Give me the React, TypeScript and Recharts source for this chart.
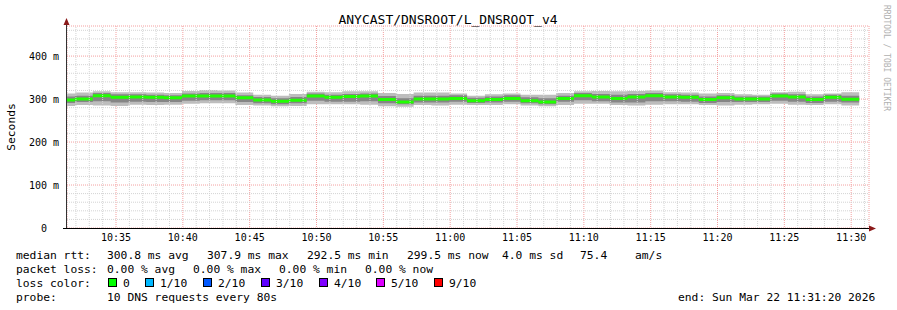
import React from "react";
import { ComposedChart, Area, XAxis, YAxis, ReferenceLine, CartesianGrid } from "recharts";

// seconds since 10:31:20 (graph start)
const timeTicks = [220, 520, 820, 1120, 1420, 1720, 2020, 2320, 2620, 2920, 3220, 3520];
const timeLabels = ["10:35", "10:40", "10:45", "10:50", "10:55", "11:00", "11:05", "11:10", "11:15", "11:20", "11:25", "11:30"];
const yTicks = [0, 100, 200, 300, 400];
const yLabels = ["0", "100 m", "200 m", "300 m", "400 m"];

// median rtt per probe round (ms)
const median = [
  297.7, 300, 307.5, 304, 305, 304, 303, 307, 307, 307, 303, 298, 295, 297, 307, 304,
  306, 307, 299, 293, 300, 300, 301.5, 296, 299, 301.5, 296, 293, 301.5, 307.7, 305, 301.5,
  305, 307.9, 305, 304, 299, 303, 300, 300, 307, 305, 299, 304, 299.5,
];
// smoke: spread of the 10 pings
const pingMin = [
  284, 286, 285, 284, 287, 286, 287, 289, 290, 290, 286, 285, 283, 284, 288, 288,
  288, 287, 283, 282, 286, 285, 287, 286, 286, 288, 285, 283, 286, 289, 289, 286,
  285, 287, 288, 288, 286, 285, 287, 288, 289, 287, 286, 288, 285,
];
const pingQ1 = [
  291, 293, 295, 292, 294, 293, 293, 296, 297, 297, 293, 290, 288, 290, 296, 294,
  294, 295, 290, 288, 292, 292, 294, 291, 292, 294, 290, 288, 294, 297, 295, 292,
  292, 295, 295, 294, 291, 293, 293, 293, 296, 294, 291, 294, 292,
];
const pingQ3 = [
  306, 308, 314, 311, 311, 310, 309, 313, 314, 314, 309, 305, 302, 305, 313, 310,
  312, 313, 307, 302, 308, 308, 309, 303, 306, 309, 304, 302, 308, 314, 312, 310,
  312, 314, 311, 310, 306, 309, 306, 306, 313, 311, 306, 310, 308,
];
const pingMax = [
  313, 315, 318, 316, 316, 315, 314, 319, 321, 320, 315, 310, 308, 312, 317, 316,
  318, 318, 314, 312, 315, 315, 313, 308, 311, 313, 310, 310, 314, 318, 319, 318,
  319, 320, 316, 315, 313, 314, 311, 310, 316, 317, 311, 313, 316,
];

const lossColors = ["#00ff00", "#00b8ff", "#0059ff", "#5e00ff", "#7e00ff", "#dd00ff", "#ff0000"];
const lossLabels = ["0", "1/10", "2/10", "3/10", "4/10", "5/10", "9/10"];

const PROBE_STEP = 80;
const FIRST_OFFSET = 36;
const END_T = FIRST_OFFSET + PROBE_STEP * (median.length - 1);
const MEDIAN_HALF = 3.5; // half thickness of the median bar, in ms

const data = median.map((m, i) => ({
  t: i === 0 ? 0 : FIRST_OFFSET + PROBE_STEP * (i - 1),
  medianBar: [m - MEDIAN_HALF, m + MEDIAN_HALF],
  outer: [pingMin[i], pingMax[i]],
  inner: [pingQ1[i], pingQ3[i]],
}));
data.push({ ...data[data.length - 1], t: END_T });

const minorX: number[] = [];
for (let t = 40; t < 3600; t += 60) if (!timeTicks.includes(t)) minorX.push(t);
const minorY: number[] = [];
for (let v = 20; v <= 460; v += 20) if (v % 100 !== 0) minorY.push(v);

const FONT = "'DejaVu Sans Mono', monospace";

const YTick = (props: any) => {
  const { x, y, payload } = props;
  const idx = yTicks.indexOf(payload.value);
  return (
    <text x={payload.value === 0 ? x - 12 : x} y={y} dy="0.35em" textAnchor="end" fontSize={10} fontFamily={FONT} fill="#000">
      {yLabels[idx]}
    </text>
  );
};

const rtt = [
  ["median rtt:", 16],
  ["300.8 ms avg", 107],
  ["307.9 ms max", 207],
  ["292.5 ms min", 307],
  ["299.5 ms now", 407],
  ["4.0 ms sd", 502],
  ["75.4", 580],
  ["am/s", 635],
] as const;
const loss = [
  ["packet loss:", 16],
  ["0.00 % avg", 107],
  ["0.00 % max", 193],
  ["0.00 % min", 279],
  ["0.00 % now", 365],
] as const;
const boxX = [108, 145, 203, 261, 319, 376, 434];

export default function App() {
  const txt = { fontFamily: FONT, fontSize: 11.3, fill: "#000" };
  return (
    <div style={{ position: "absolute", left: 0, top: 0, width: 897, height: 310, background: "#fff" }}>
      <ComposedChart width={897} height={310} data={data} margin={{ top: 26, right: 28, bottom: 62, left: 17 }}>
        <CartesianGrid stroke="#f4a0a0" strokeDasharray="1 1" />
        <XAxis
          dataKey="t"
          type="number"
          domain={[0, 3600]}
          ticks={timeTicks}
          tickFormatter={(v: number) => timeLabels[timeTicks.indexOf(v)]}
          axisLine={false}
          tickLine={false}
          tickMargin={0}
          height={20}
          tick={{ fontSize: 10, fontFamily: FONT, fill: "#000" }}
        />
        <YAxis
          type="number"
          domain={[0, 470]}
          ticks={yTicks}
          axisLine={false}
          tickLine={false}
          width={50}
          tick={YTick}
        />
        {minorY.map((v) => (
          <ReferenceLine key={"hy" + v} y={v} stroke="#d4d4d4" strokeDasharray="1 1" />
        ))}
        {minorX.map((v) => (
          <ReferenceLine key={"vx" + v} x={v} stroke="#d4d4d4" strokeDasharray="1 1" />
        ))}
        <Area type="stepAfter" dataKey="outer" stroke="none" fill="#bdbdbd" fillOpacity={1} isAnimationActive={false} />
        <Area type="stepAfter" dataKey="inner" stroke="none" fill="#858585" fillOpacity={1} isAnimationActive={false} />
        <Area type="stepAfter" dataKey="medianBar" stroke="none" fill="#20ff00" fillOpacity={1} isAnimationActive={false} />
      </ComposedChart>

      <svg width={897} height={310} style={{ position: "absolute", left: 0, top: 0, pointerEvents: "none" }}>
        <text x={448} y={24} textAnchor="middle" fontSize={13} fontFamily={FONT} fill="#000">
          ANYCAST/DNSROOT/L_DNSROOT_v4
        </text>
        <text x={15} y={127} textAnchor="middle" transform="rotate(-90 15 127)" {...txt}>
          Seconds
        </text>
        <text x={884} y={5} transform="rotate(90 884 5)" fontSize={8} fontFamily={FONT} fill="#b0b0b0">
          RRDTOOL / TOBI OETIKER
        </text>

        <line x1={66.5} y1={229} x2={66.5} y2={22} stroke="#333" strokeWidth={1} />
        <line x1={63} y1={228.5} x2={871} y2={228.5} stroke="#000" strokeWidth={1} />
        <polygon points="66.5,18 63.5,25 69.5,25" fill="#8b1a1a" />
        <polygon points="876,228.5 869,225.5 869,231.5" fill="#8b1a1a" />

        {rtt.map(([s, x]) => (
          <text key={s} x={x} y={259} {...txt}>{s}</text>
        ))}
        {loss.map(([s, x]) => (
          <text key={s} x={x} y={273} {...txt}>{s}</text>
        ))}
        <text x={16} y={287} {...txt}>loss color:</text>
        {lossColors.map((c, i) => (
          <g key={c}>
            <rect x={boxX[i] + 0.5} y={278.5} width={8} height={8} fill={c} stroke="#000" strokeWidth={1} />
            <text x={boxX[i] + 15} y={287} {...txt}>{lossLabels[i]}</text>
          </g>
        ))}
        <text x={16} y={301} {...txt}>probe:</text>
        <text x={107} y={301} {...txt}>10 DNS requests every 80s</text>
        <text x={678} y={301} {...txt}>end: Sun Mar 22 11:31:20 2026</text>
      </svg>
    </div>
  );
}
